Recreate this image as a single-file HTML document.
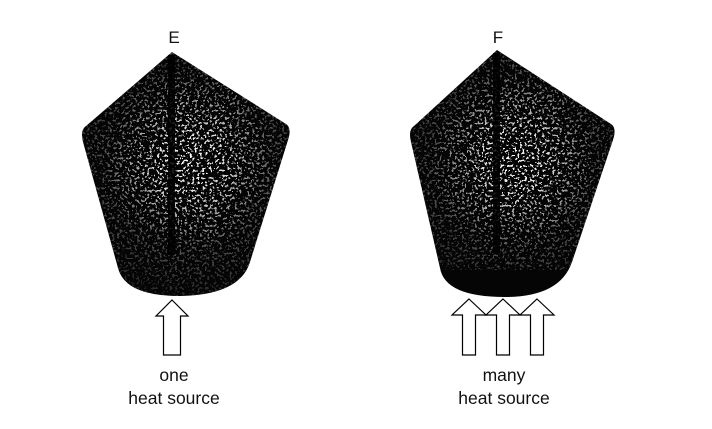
<!DOCTYPE html>
<html><head><meta charset="utf-8">
<style>
html,body{margin:0;padding:0;background:#fff;}
svg{display:block;}
text{font-family:"Liberation Sans",sans-serif;fill:#111;}
</style></head>
<body>
<svg width="712" height="429" viewBox="0 0 712 429">
<defs>
  <filter id="speck" x="0" y="0" width="100%" height="100%">
    <feTurbulence type="fractalNoise" baseFrequency="0.4" numOctaves="2" seed="5" result="n"/>
    <feColorMatrix type="matrix" values="0 0 0 0 1  0 0 0 0 1  0 0 0 0 1  1.6 0 0 0 -0.3" in="n" result="a"/>
    <feComponentTransfer in="a"><feFuncA type="discrete" tableValues="0 0 0 0 1 1"/></feComponentTransfer>
  </filter>
  <radialGradient id="gE" cx="0.5" cy="0.45" r="0.55">
    <stop offset="0" stop-color="#fff" stop-opacity="1"/>
    <stop offset="0.25" stop-color="#fff" stop-opacity="0.85"/>
    <stop offset="0.6" stop-color="#fff" stop-opacity="0.3"/>
    <stop offset="1" stop-color="#fff" stop-opacity="0.1"/>
  </radialGradient>
  <linearGradient id="fadeF" x1="0" y1="0" x2="0" y2="1">
    <stop offset="0.75" stop-color="#fff" stop-opacity="1"/>
    <stop offset="1" stop-color="#fff" stop-opacity="0"/>
  </linearGradient>
  <mask id="mE"><rect x="60" y="40" width="260" height="270" fill="url(#gE)"/></mask>
  <mask id="mF"><rect x="390" y="40" width="250" height="270" fill="url(#gE)"/></mask>
  <clipPath id="cE"><path d="M172 52 L286 124 Q292 128 288 140 L250 262 Q240 295 180 296 Q125 296 118 268 L83 142 Q80 130 86 126 Z"/></clipPath>
  <clipPath id="cF"><path d="M497 50 L611 124 Q617 128 613 140 L572 262 Q560 297 505 297 Q445 297 440 268 L411 142 Q408 130 414 126 Z"/></clipPath>
</defs>

<g>
  <path d="M172 52 L286 124 Q292 128 288 140 L250 262 Q240 295 180 296 Q125 296 118 268 L83 142 Q80 130 86 126 Z" fill="#050505"/>
  <g clip-path="url(#cE)" mask="url(#mE)">
    <rect x="60" y="40" width="260" height="270" filter="url(#speck)"/>
  </g>
  <rect x="168" y="55" width="7" height="200" fill="#000" opacity="0.85"/>
</g>
<g>
  <path d="M497 50 L611 124 Q617 128 613 140 L572 262 Q560 297 505 297 Q445 297 440 268 L411 142 Q408 130 414 126 Z" fill="#050505"/>
  <g clip-path="url(#cF)" mask="url(#mF)">
    <rect x="390" y="40" width="250" height="230" filter="url(#speck)"/>
  </g>
  <rect x="493" y="53" width="7" height="200" fill="#000" opacity="0.85"/>
</g>

<text x="174" y="43" font-size="17" text-anchor="middle">E</text>
<text x="498" y="43" font-size="17" text-anchor="middle">F</text>

<g fill="#fff" stroke="#000" stroke-width="1.2" stroke-linejoin="miter">
  <path d="M172 300 L188 316 L180.5 316 L180.5 355 L163.5 355 L163.5 316 L156 316 Z"/>
  <path d="M469 299 L486 315 L475.5 315 L475.5 355 L462.5 355 L462.5 315 L452 315 Z"/>
  <path d="M503 299 L520 315 L509.5 315 L509.5 355 L496.5 355 L496.5 315 L486 315 Z"/>
  <path d="M537 299 L554 315 L543.5 315 L543.5 355 L530.5 355 L530.5 315 L520 315 Z"/>
</g>

<text x="174" y="381" font-size="17.5" text-anchor="middle">one</text>
<text x="174" y="404" font-size="17.5" text-anchor="middle">heat source</text>
<text x="504" y="381" font-size="17.5" text-anchor="middle">many</text>
<text x="504" y="404" font-size="17.5" text-anchor="middle">heat source</text>
</svg>
</body></html>
